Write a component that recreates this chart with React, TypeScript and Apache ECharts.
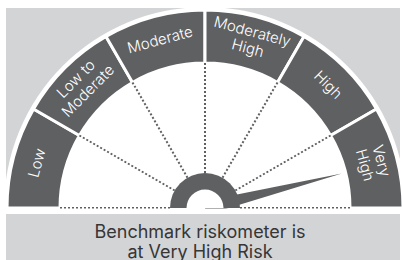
import React, { useEffect, useRef } from "react";
import * as echarts from "echarts";

const riskLevels = ["Low", "Low to\nModerate", "Moderate", "Moderately\nHigh", "High", "Very\nHigh"];
const segmentValues = [1, 1, 1, 1, 1, 1];
const needleValue = 5.53;
const captionLines = ["Benchmark riskometer is", "at Very High Risk"];

const DARK = "#5f6062";
const LIGHT = "#d3d4d6";
const CX = 205;
const CY = 208;

export default function App() {
  const ref = useRef<HTMLDivElement>(null);
  useEffect(() => {
    if (!ref.current) return;
    const chart = echarts.init(ref.current, undefined, { renderer: "svg" });
    const total = segmentValues.reduce((a, b) => a + b, 0);
    chart.setOption({
      animation: false,
      graphic: [
        { type: "rect", z: -10, shape: { x: 6, y: 8, width: 394, height: 200 }, style: { fill: LIGHT } },
        {
          type: "sector", z: -9,
          shape: { cx: CX, cy: CY, r0: 0, r: 201, startAngle: Math.PI, endAngle: Math.PI * 2 },
          style: { fill: "#ffffff" },
        },
        {
          type: "sector", z: 20,
          shape: { cx: CX, cy: CY, r0: 0, r: 35, startAngle: Math.PI, endAngle: Math.PI * 2 },
          style: { fill: DARK },
        },
        {
          type: "sector", z: 21,
          shape: { cx: CX, cy: CY, r0: 0, r: 18.5, startAngle: Math.PI, endAngle: Math.PI * 2 },
          style: { fill: "#ffffff" },
        },
        { type: "rect", z: 22, shape: { x: 0, y: 208.5, width: 402, height: 6 }, style: { fill: "#ffffff" } },
        { type: "rect", z: 22, shape: { x: 6, y: 214, width: 394, height: 46 }, style: { fill: LIGHT } },
        ...captionLines.map((t, i) => ({
          type: "text", z: 23, x: 200, y: 231 + i * 20,
          style: {
            text: t, fill: "#363636", fontSize: 18, fontFamily: "Inter", fontWeight: 400,
            align: "center", verticalAlign: "middle",
          },
        })),
      ],
      series: [
        {
          type: "pie",
          z: 2,
          silent: true,
          center: [CX, CY],
          radius: [145, 198],
          startAngle: 180,
          clockwise: true,
          avoidLabelOverlap: false,
          itemStyle: { color: DARK, borderColor: "#ffffff", borderWidth: 3 },
          label: {
            show: true, position: "inside", rotate: "tangential",
            color: "#ffffff", fontSize: 15, fontFamily: "Inter", fontWeight: 300, lineHeight: 17,
            formatter: (p: any) => p.name,
          },
          labelLine: { show: false },
          data: [
            ...riskLevels.map((name, i) => ({ name, value: segmentValues[i] })),
            {
              name: "", value: total,
              itemStyle: { color: "none", borderWidth: 0 },
              label: { show: false },
            },
          ],
        },
        {
          type: "gauge",
          z: 3,
          center: [CX, CY],
          radius: 145,
          startAngle: 180,
          endAngle: 0,
          min: 0,
          max: total,
          splitNumber: segmentValues.length,
          axisLine: { show: false, lineStyle: { width: 0 } },
          axisTick: { show: false },
          axisLabel: { show: false },
          splitLine: {
            show: true, length: 110, distance: 0,
            lineStyle: { color: DARK, width: 2, type: [2, 2] },
          },
          pointer: {
            show: true,
            icon: "path://M5,0 L10,100 L0,100 Z",
            length: 141,
            width: 14,
            offsetCenter: [0, 0],
            itemStyle: { color: DARK },
          },
          anchor: { show: false },
          title: { show: false },
          detail: { show: false },
          progress: { show: false },
          data: [{ value: needleValue }],
        },
      ],
    });
    return () => chart.dispose();
  }, []);
  return (
    <div
      ref={ref}
      style={{ position: "absolute", left: 0, top: 0, width: 402, height: 260 }}
    />
  );
}
